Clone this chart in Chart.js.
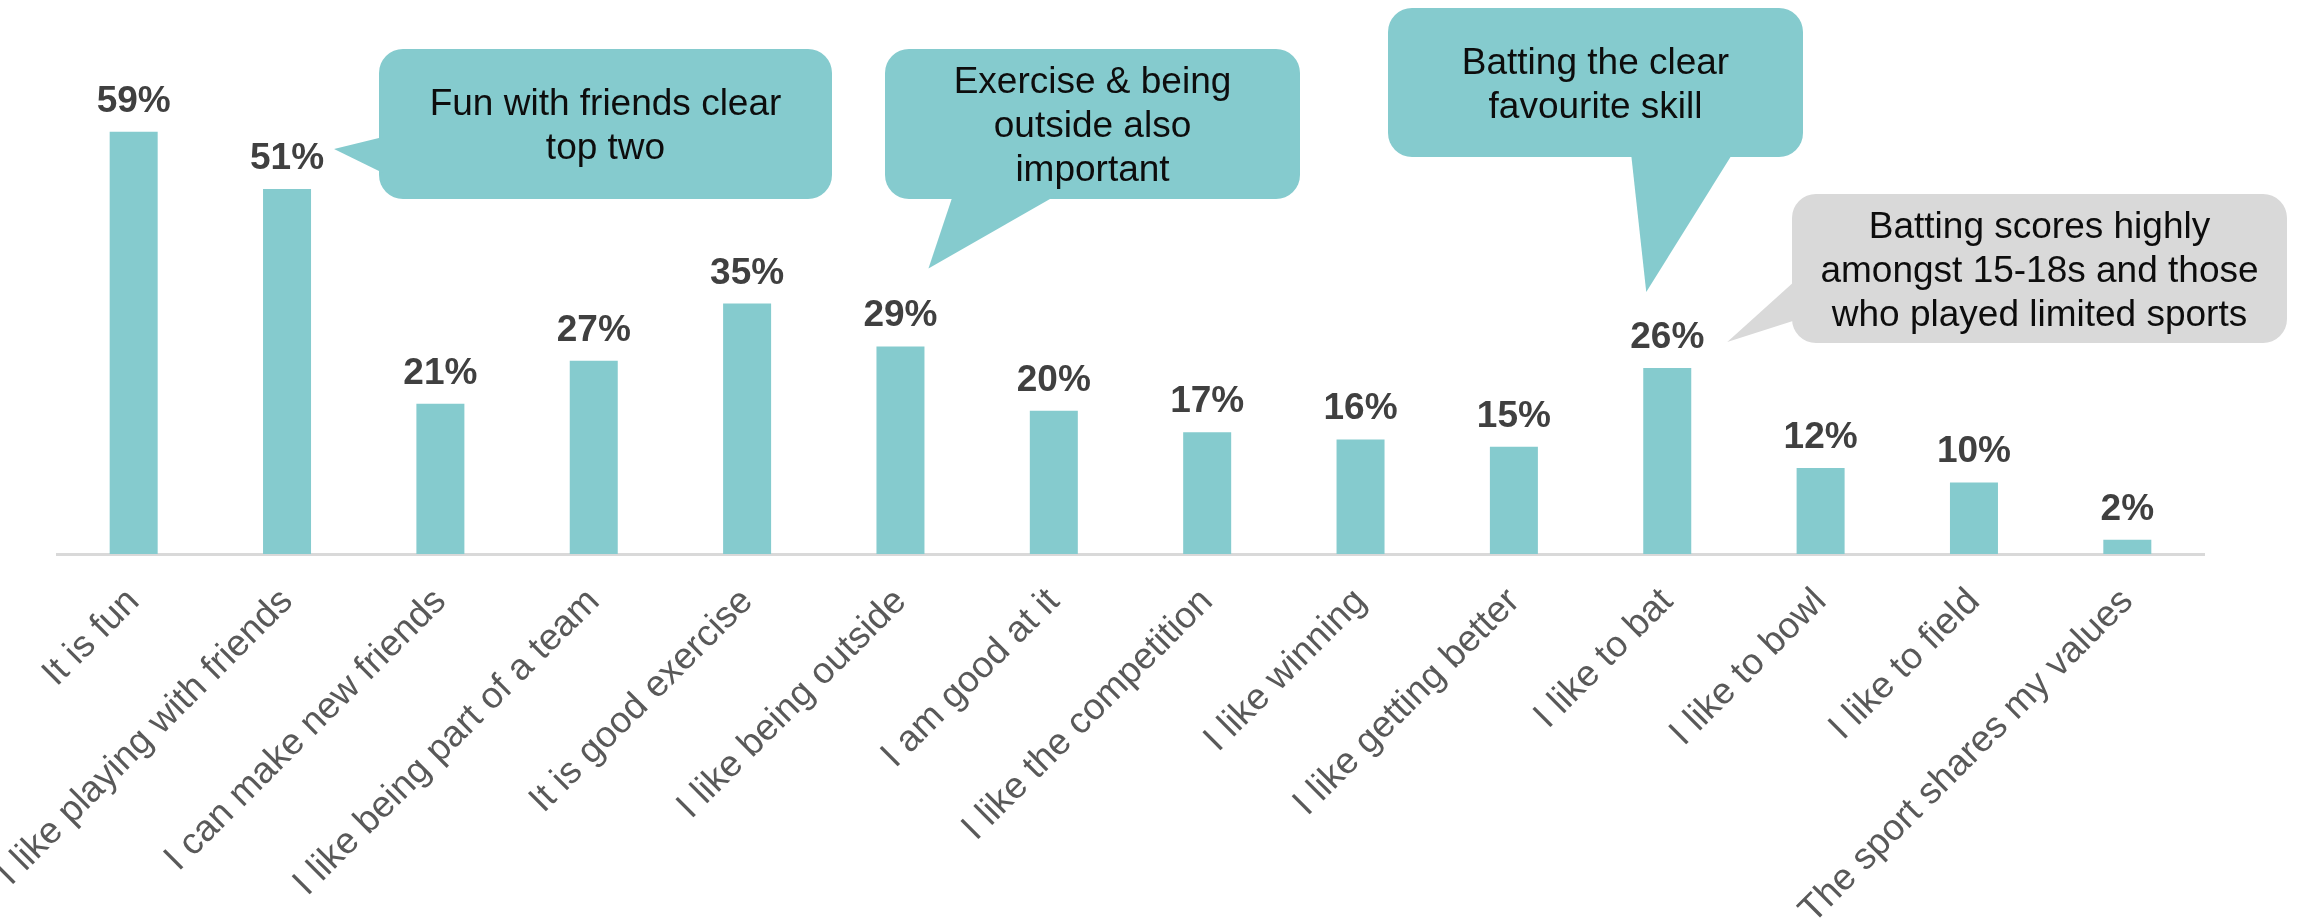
<!DOCTYPE html>
<html>
<head>
<meta charset="utf-8">
<script src="https://cdn.jsdelivr.net/npm/chart.js@4.4.1/dist/chart.umd.min.js"></script>
<style>
  html, body { margin:0; padding:0; background:#fff; }
  #wrap { width:2300px; height:921px; }
</style>
</head>
<body>
<div id="wrap"><canvas id="reasonsChart" width="2300" height="921"></canvas></div>
<script>
// reasons for enjoying the sport, % of respondents
const reasons = [
  'It is fun', 'I like playing with friends', 'I can make new friends', 'I like being part of a team',
  'It is good exercise', 'I like being outside', 'I am good at it', 'I like the competition',
  'I like winning', 'I like getting better', 'I like to bat', 'I like to bowl', 'I like to field',
  'The sport shares my values'
];
const shares = [59, 51, 21, 27, 35, 29, 20, 17, 16, 15, 26, 12, 10, 2];

const TEAL = '#85cbce';
const FONT = '"Liberation Sans", Arial, sans-serif';

// speech bubbles: box in canvas px, tail base on the box edge, tail tip next to a bar's value label
const callouts = [
  { lines:['Fun with friends clear','top two'], box:[379,49,453,150], fill:TEAL,
    base:[[383,137],[383,173]], bar:1, dx:47, dy:-40 },
  { lines:['Exercise & being','outside also','important'], box:[885,49,415,150], fill:TEAL,
    base:[[953,195],[1057,195]], bar:5, dx:28, dy:-78 },
  { lines:['Batting the clear','favourite skill'], box:[1388,8,415,149], fill:TEAL,
    base:[[1631,153],[1733,153]], bar:10, dx:-21, dy:-76 },
  { lines:['Batting scores highly','amongst 15-18s and those','who played limited sports'], box:[1792,194,495,149], fill:'#d9d9d9',
    base:[[1796,280],[1796,320]], bar:10, dx:60, dy:-26 }
];

function roundRect(ctx, x, y, w, h, r){
  ctx.beginPath();
  ctx.moveTo(x+r, y);
  ctx.arcTo(x+w, y, x+w, y+h, r);
  ctx.arcTo(x+w, y+h, x, y+h, r);
  ctx.arcTo(x, y+h, x, y, r);
  ctx.arcTo(x, y, x+w, y, r);
  ctx.closePath();
}

const valueLabels = {
  id:'valueLabels',
  afterDatasetsDraw(chart){
    const ctx = chart.ctx;
    const meta = chart.getDatasetMeta(0);
    ctx.save();
    ctx.font = 'bold 37px ' + FONT;
    ctx.fillStyle = '#404040';
    ctx.textAlign = 'center';
    ctx.textBaseline = 'alphabetic';
    meta.data.forEach((bar, i) => {
      ctx.fillText(shares[i] + '%', bar.x, bar.y - 20);
    });
    ctx.restore();
  }
};

const bubbles = {
  id:'bubbles',
  afterDraw(chart){
    const ctx = chart.ctx;
    const xs = chart.scales.x, ys = chart.scales.y;
    ctx.save();
    callouts.forEach(c => {
      const [bx, by, bw, bh] = c.box;
      const tipX = xs.getPixelForValue(c.bar) + c.dx;
      const tipY = ys.getPixelForValue(shares[c.bar]) + c.dy;
      ctx.fillStyle = c.fill;
      roundRect(ctx, bx, by, bw, bh, 24);
      ctx.fill();
      ctx.beginPath();
      ctx.moveTo(c.base[0][0], c.base[0][1]);
      ctx.lineTo(tipX, tipY);
      ctx.lineTo(c.base[1][0], c.base[1][1]);
      ctx.closePath();
      ctx.fill();

      ctx.fillStyle = '#0d0d0d';
      ctx.font = '37px ' + FONT;
      ctx.textAlign = 'center';
      ctx.textBaseline = 'alphabetic';
      const lh = 44;
      const mid = by + bh / 2 + 13;
      c.lines.forEach((t, k) => ctx.fillText(t, bx + bw / 2, mid + (k - (c.lines.length - 1) / 2) * lh));
    });
    ctx.restore();
  }
};

new Chart(document.getElementById('reasonsChart'), {
  type:'bar',
  data:{
    labels: reasons,
    datasets:[{ data: shares, backgroundColor: TEAL, barPercentage:0.313, categoryPercentage:1 }]
  },
  options:{
    responsive:false,
    devicePixelRatio:1,
    animation:false,
    layout:{ padding:{ left:57, right:96, top:53, bottom:0 } },
    plugins:{ legend:{ display:false }, tooltip:{ enabled:false } },
    scales:{
      x:{
        grid:{ display:false, drawTicks:false },
        border:{ display:true, color:'#d9d9d9', width:3 },
        ticks:{
          autoSkip:false, minRotation:45, maxRotation:45, padding:26,
          color:'#595959', font:{ family:FONT, size:37 }
        },
        afterFit(s){ s.height = 367; s.paddingLeft = 0; s.paddingRight = 0; }
      },
      y:{ display:false, min:0, max:70 }
    }
  },
  plugins:[valueLabels, bubbles]
});
</script>
</body>
</html>
